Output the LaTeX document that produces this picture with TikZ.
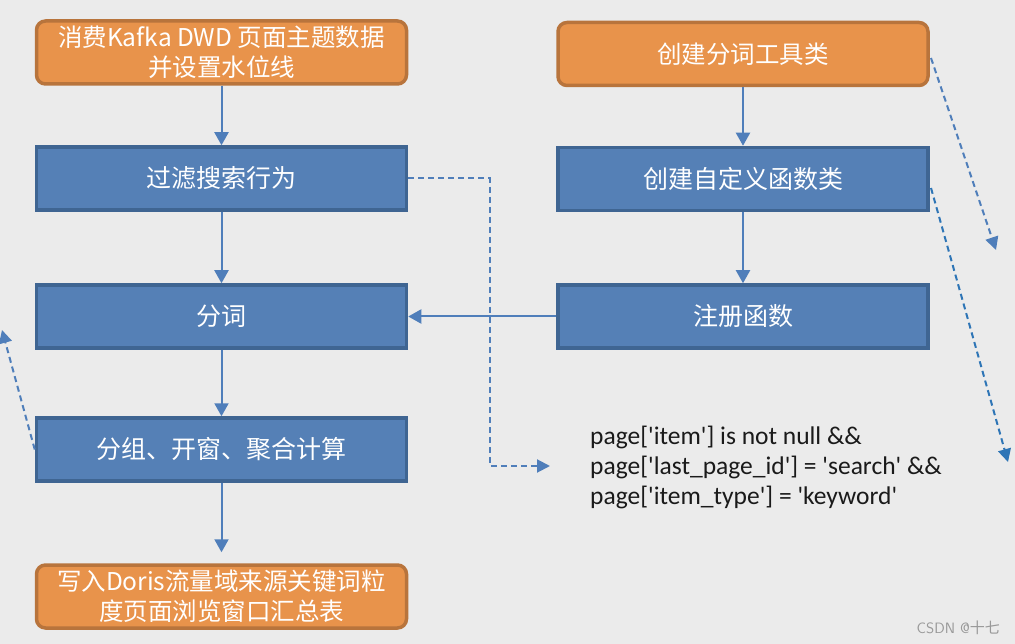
\documentclass[tikz,border=0pt]{standalone}
\usepackage{fontspec}
\setmainfont{Carlito}
\newfontfamily\codefont{Carlito}[Ligatures=TeXOff]
\newfontfamily\cjk{Noto Sans CJK SC}
\usetikzlibrary{arrows.meta}
\definecolor{bg}{HTML}{EBEBEB}
\definecolor{bluefill}{HTML}{5580B6}
\definecolor{blueline}{HTML}{3F6592}
\definecolor{orfill}{HTML}{E8934B}
\definecolor{orline}{HTML}{B8743C}
\definecolor{arrowc}{HTML}{4F7EBA}
\definecolor{arrowb}{HTML}{2E75B6}
\definecolor{txt}{HTML}{1A1A1A}
\begin{document}
\begin{tikzpicture}[x=1pt,y=-1pt,
  bluebox/.style={draw=blueline,fill=bluefill,line width=3.5pt,minimum width=370pt,minimum height=63pt,
    text=white,font=\cjk\fontsize{25}{30}\selectfont,align=center,inner sep=0pt},
  orbox/.style={bluebox,draw=orline,fill=orfill,rounded corners=9pt,font=\cjk\fontsize{24.5}{30}\selectfont},
  flow/.style={draw=arrowc,line width=2pt,-{Triangle[length=13pt,width=14pt]}},
  dflow/.style={draw=arrowc,line width=2pt,dash pattern=on 6pt off 4pt,-{Triangle[length=13pt,width=13pt]}},
]
\useasboundingbox[fill=bg] (0,0) rectangle (1015,644);
% left column
\node[orbox]  (a1) at (221.5,52.5) {消费Kafka DWD 页面主题数据\\并设置水位线};
\node[bluebox](a2) at (221.5,178.5) {过滤搜索行为};
\node[bluebox](a3) at (221.5,316.5) {分词};
\node[bluebox](a4) at (221.5,449.5) {分组、开窗、聚合计算};
\node[orbox]  (a5) at (221.5,596.5) {写入Doris流量域来源关键词粒\\度页面浏览窗口汇总表};
% right column
\node[orbox]  (b1) at (743,54) {创建分词工具类};
\node[bluebox](b2) at (743,179) {创建自定义函数类};
\node[bluebox](b3) at (743,316.5) {注册函数};
% code text
\node[anchor=west,align=left,text=txt,font=\codefont\fontsize{25.5}{30}\selectfont,inner sep=0pt] (code) at (590,467)
  {page['item'] is not null \&\&\\page['last\_page\_id'] = 'search' \&\&\\page['item\_type'] = 'keyword'};
% watermark
\node[anchor=east,text=gray!80,font=\fontsize{15}{17}\selectfont\sffamily,inner sep=0pt] (wm) at (1000,628) {CSDN @{\cjk 十七}};
% solid connectors
\draw[flow] (a1) -- (a2);
\draw[flow] (a2) -- (a3);
\draw[flow] (a3) -- (a4);
\draw[flow,shorten >=11pt] (a4) -- (a5);
\draw[flow] (b1) -- (b2);
\draw[flow] (b2) -- (b3);
\draw[flow] (b3) -- (a3);
% dashed connectors
\coordinate (c1) at (550,466);
\draw[dflow] (a2.east) -- (490,178.5) |- (c1);
\coordinate (l1) at (2,330);
\draw[dflow] (a4.west) -- (l1);
\coordinate (r0) at (931,58);
\coordinate (r1) at (996,250);
\draw[dflow] (r0) -- (r1);
\coordinate (r2) at (931,188);
\coordinate (r3) at (1008,462);
\draw[dflow,draw=arrowb] (r2) -- (r3);
\end{tikzpicture}
\end{document}
